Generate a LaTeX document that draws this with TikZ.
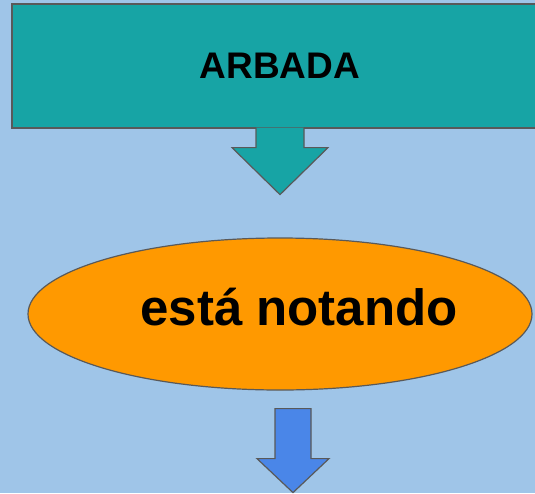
\documentclass[tikz,border=0pt]{standalone}
\usepackage{fontspec}
\setmainfont{Liberation Sans}
\usetikzlibrary{shapes.geometric}

\definecolor{skyback}{HTML}{9FC5E8}
\definecolor{tealbox}{HTML}{17A4A5}
\definecolor{orangeblob}{HTML}{FF9900}
\definecolor{bluearrow}{HTML}{4A86E8}
\definecolor{edgegray}{HTML}{595959}

\begin{document}
\begin{tikzpicture}[x=1pt,y=-1pt,line width=1.2pt,line join=miter]
      \tikzset{titlebox/.style={rectangle,draw=edgegray,fill=tealbox,minimum width=536pt,
                 minimum height=124pt,inner sep=0pt,font=\bfseries\fontsize{37}{40}\selectfont}}
      \tikzset{blob/.style={ellipse,draw=edgegray,fill=orangeblob,minimum width=504pt,
                 minimum height=152pt,inner sep=0pt}}
      \tikzset{blobtext/.style={inner sep=0pt,font=\bfseries\fontsize{51}{56}\selectfont}}
      \tikzset{blockarrow/.style={draw=edgegray,fill=#1}}
      \clip (0,0) rectangle (535,493);
      \fill[skyback] (0,0) rectangle (535,493);
      \node [titlebox] (arbada) at (280,66) {ARBADA};
      \filldraw[blockarrow=tealbox] ([xshift=-24pt,yshift=1pt]arbada.south) -- ++(0,20) -- ++(-24,0)
          -- ++(48,47) -- ++(48,-47) -- ++(-24,0) -- ++(0,-20);
      \node [blob] (nota) at (280,314) {};
      \node [blobtext,anchor=base] (notatxt) at ([xshift=19pt,yshift=-11pt]nota.center) {está notando};
      \coordinate (down) at ([xshift=13pt,yshift=-18pt]nota.south);
      \draw[blockarrow=bluearrow] ([xshift=-18pt]down) -- ++(0,50) -- ++(-18,0) -- ++(36,34)
          -- ++(36,-34) -- ++(-18,0) -- ++(0,-50) -- cycle;
\end{tikzpicture}
\end{document}
